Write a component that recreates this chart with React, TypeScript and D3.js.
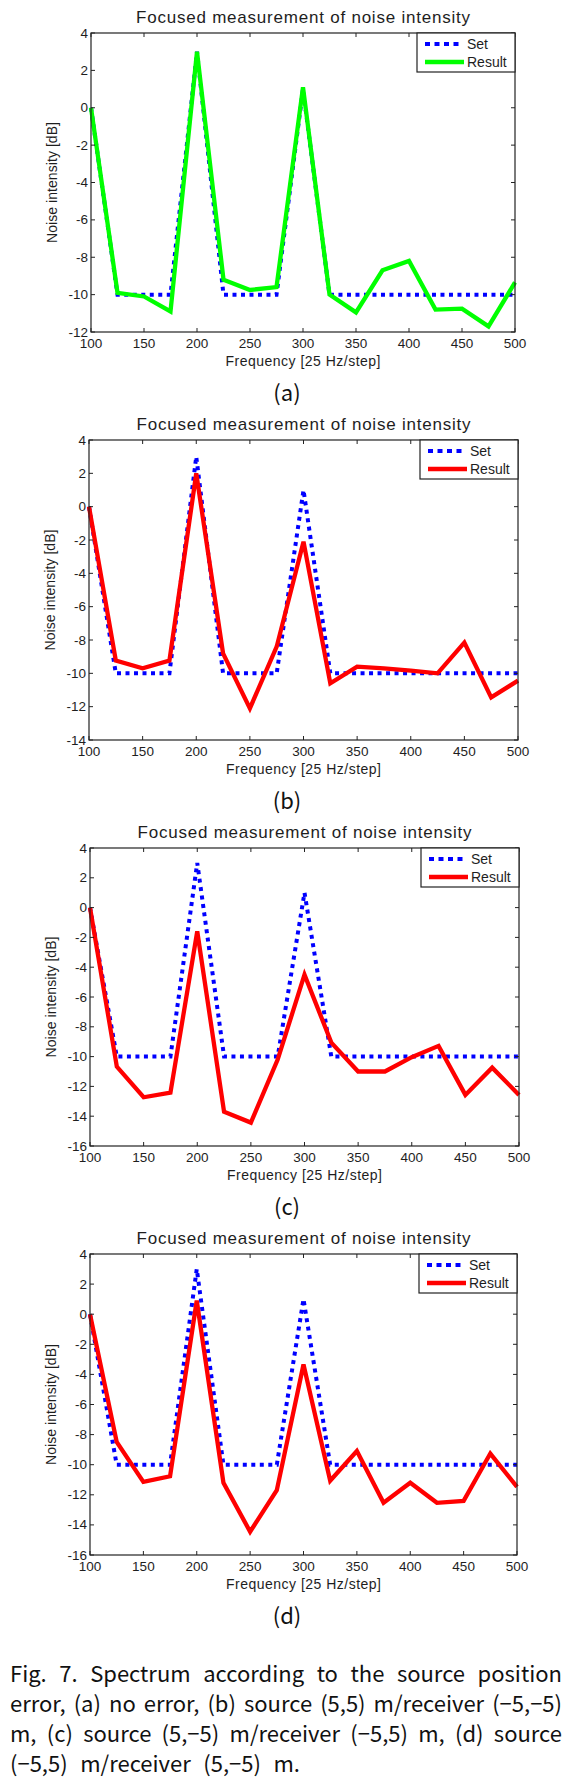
import React, { useLayoutEffect, useRef } from 'react';
import * as d3 from 'd3';

// ---------- data ----------
const frequencies = [100, 125, 150, 175, 200, 225, 250, 275, 300, 325, 350, 375, 400, 425, 450, 475, 500];
const setLevels = [0, -10, -10, -10, 3, -10, -10, -10, 1, -10, -10, -10, -10, -10, -10, -10, -10];
const resultNoError = [0, -9.9, -10.1, -10.9, 3.0, -9.2, -9.75, -9.6, 1.1, -10.0, -10.95, -8.7, -8.2, -10.8, -10.75, -11.7, -9.35];
const resultCaseB = [0, -9.24, -9.7, -9.24, 2.0, -8.8, -12.1, -8.4, -2.1, -10.6, -9.6, -9.7, -9.84, -10.0, -8.16, -11.44, -10.44];
const resultCaseC = [0, -10.67, -12.73, -12.42, -1.6, -13.7, -14.43, -10.2, -4.5, -9.06, -11.0, -11.0, -10.04, -9.28, -12.57, -10.74, -12.57];
const resultCaseD = [0, -8.49, -11.14, -10.77, 0.9, -11.2, -14.45, -11.7, -3.34, -11.07, -9.09, -12.53, -11.2, -12.53, -12.4, -9.26, -11.47];

const xTickValues = [100, 150, 200, 250, 300, 350, 400, 450, 500];
const yTicksA = [-12, -10, -8, -6, -4, -2, 0, 2, 4];
const yTicksB = [-14, -12, -10, -8, -6, -4, -2, 0, 2, 4];
const yTicksC = [-16, -14, -12, -10, -8, -6, -4, -2, 0, 2, 4];
const yTicksD = [-16, -14, -12, -10, -8, -6, -4, -2, 0, 2, 4];

const panelLetters = ['(a)', '(b)', '(c)', '(d)'];
const titleText = 'Focused measurement of noise intensity';
const xLabelText = 'Frequency [25 Hz/step]';
const yLabelText = 'Noise intensity [dB]';
const legendLabels = ['Set', 'Result'];
const captionLines = [
  'Fig. 7. Spectrum according to the source position',
  'error, (a) no error, (b) source (5,5) m/receiver (\u22125,\u22125)',
  'm, (c) source (5,\u22125) m/receiver (\u22125,5) m, (d) source',
  '(\u22125,5) m/receiver (5,\u22125) m.',
];

// ---------- layout / style ----------
const W = 582;
const H = 1782;
const AXIS_FONT = '"Liberation Sans", Arial, Helvetica, sans-serif';
const CAP_FONT = '"Noto Sans CJK KR", "Noto Sans", sans-serif';
const TEXT_COLOR = '#1e1e1e';

const panels = [
  { result: resultNoError, yTicks: yTicksA, color: '#00ff00', letter: panelLetters[0], box: { left: 91, right: 515, top: 33, bottom: 332 } },
  { result: resultCaseB, yTicks: yTicksB, color: '#ff0000', letter: panelLetters[1], box: { left: 89, right: 518, top: 440, bottom: 740 } },
  { result: resultCaseC, yTicks: yTicksC, color: '#ff0000', letter: panelLetters[2], box: { left: 90, right: 519, top: 848, bottom: 1146 } },
  { result: resultCaseD, yTicks: yTicksD, color: '#ff0000', letter: panelLetters[3], box: { left: 90, right: 517, top: 1254, bottom: 1555 } },
];

function Panel({ cfg }: { cfg: any }) {
  const { left, right, top, bottom } = cfg.box;
  const x = d3.scaleLinear().domain([100, 500]).range([left, right]);
  const y = d3.scaleLinear().domain([cfg.yTicks[0], cfg.yTicks[cfg.yTicks.length - 1]]).range([bottom, top]);
  const line = d3
    .line<number>()
    .x((_, i) => x(frequencies[i]))
    .y((d) => y(d));
  const tickLen = 4;
  const cx = (left + right) / 2;
  const cy = (top + bottom) / 2;
  const lgW = 98;
  const lgH = 39;
  const lgX = right - lgW;
  const lgY = top;

  return (
    <g>
      {/* title */}
      <text x={cx} y={top - 10} textAnchor="middle" fontFamily={AXIS_FONT} fontSize={17} fill={TEXT_COLOR}
        textLength={334} lengthAdjust="spacing">
        {titleText}
      </text>

      {/* series */}
      <path d={line(setLevels) || ''} fill="none" stroke="#0000ff" strokeWidth={4} strokeDasharray="4,4.5" />
      <path d={line(cfg.result) || ''} fill="none" stroke={cfg.color} strokeWidth={4.3} strokeLinejoin="miter" strokeMiterlimit={3} />

      {/* axes box */}
      <rect x={left} y={top} width={right - left} height={bottom - top} fill="none" stroke="#222" strokeWidth={1.2} />

      {/* x ticks */}
      {xTickValues.map((t) => (
        <g key={'x' + t}>
          <line x1={x(t)} x2={x(t)} y1={bottom} y2={bottom - tickLen} stroke="#222" strokeWidth={1} />
          <line x1={x(t)} x2={x(t)} y1={top} y2={top + tickLen} stroke="#222" strokeWidth={1} />
          <text x={x(t)} y={bottom + 15.5} textAnchor="middle" fontFamily={AXIS_FONT} fontSize={13.5} fill={TEXT_COLOR}>
            {t}
          </text>
        </g>
      ))}

      {/* y ticks */}
      {cfg.yTicks.map((t: number) => (
        <g key={'y' + t}>
          <line x1={left} x2={left + tickLen} y1={y(t)} y2={y(t)} stroke="#222" strokeWidth={1} />
          <line x1={right} x2={right - tickLen} y1={y(t)} y2={y(t)} stroke="#222" strokeWidth={1} />
          <text x={left - 3} y={y(t) + 4.5} textAnchor="end" fontFamily={AXIS_FONT} fontSize={13.5} fill={TEXT_COLOR}>
            {t}
          </text>
        </g>
      ))}

      {/* axis labels */}
      <text x={cx} y={bottom + 34} textAnchor="middle" fontFamily={AXIS_FONT} fontSize={14} fill={TEXT_COLOR}
        textLength={155} lengthAdjust="spacing">
        {xLabelText}
      </text>
      <text transform={`translate(${left - 34},${cy}) rotate(-90)`} textAnchor="middle" fontFamily={AXIS_FONT}
        fontSize={14} fill={TEXT_COLOR} textLength={121} lengthAdjust="spacing">
        {yLabelText}
      </text>

      {/* legend */}
      <rect x={lgX} y={lgY} width={lgW} height={lgH} fill="#fff" stroke="#222" strokeWidth={1.2} />
      <line x1={lgX + 8} x2={lgX + 44} y1={lgY + 11} y2={lgY + 11} stroke="#0000ff" strokeWidth={4} strokeDasharray="5,4.5" />
      <line x1={lgX + 8} x2={lgX + 47} y1={lgY + 29} y2={lgY + 29} stroke={cfg.color} strokeWidth={4.3} />
      <text x={lgX + 50} y={lgY + 16} fontFamily={AXIS_FONT} fontSize={14} fill={TEXT_COLOR}>
        {legendLabels[0]}
      </text>
      <text x={lgX + 50} y={lgY + 34} fontFamily={AXIS_FONT} fontSize={14} fill={TEXT_COLOR}>
        {legendLabels[1]}
      </text>

      {/* panel letter */}
      <text x={287} y={bottom + 69} textAnchor="middle" fontFamily={CAP_FONT} fontSize={22} fill="#111">
        {cfg.letter}
      </text>
    </g>
  );
}

function Caption() {
  const ref = useRef<SVGGElement>(null);
  const left = 10;
  const targets = [552, 552, 552, 290];
  const baselines = [1682, 1712, 1742, 1772];

  useLayoutEffect(() => {
    if (!ref.current) return;
    const g = d3.select(ref.current);
    g.selectAll<SVGTextElement, unknown>('text.capline').each(function (_, li) {
      const spans = d3.select(this).selectAll<SVGTSpanElement, unknown>('tspan').nodes();
      const widths = spans.map((s) => s.getComputedTextLength());
      const total = d3.sum(widths);
      const gap = spans.length > 1 ? (targets[li] - total) / (spans.length - 1) : 0;
      let cur = left;
      spans.forEach((s, i) => {
        s.setAttribute('x', String(cur));
        cur += widths[i] + gap;
      });
    });
  }, []);

  return (
    <g ref={ref}>
      {captionLines.map((ln, li) => (
        <text key={li} className="capline" y={baselines[li]} fontFamily={CAP_FONT} fontSize={22} fill="#111">
          {ln.split(' ').map((w, wi) => (
            <tspan key={wi} x={left + wi * 40}>
              {w}
            </tspan>
          ))}
        </text>
      ))}
    </g>
  );
}

export default function App() {
  return (
    <svg width={W} height={H} viewBox={`0 0 ${W} ${H}`} style={{ position: 'absolute', left: 0, top: 0, background: '#fff' }}>
      <rect x={0} y={0} width={W} height={H} fill="#fff" />
      {panels.map((p, i) => (
        <Panel key={i} cfg={p} />
      ))}
      <Caption />
    </svg>
  );
}
